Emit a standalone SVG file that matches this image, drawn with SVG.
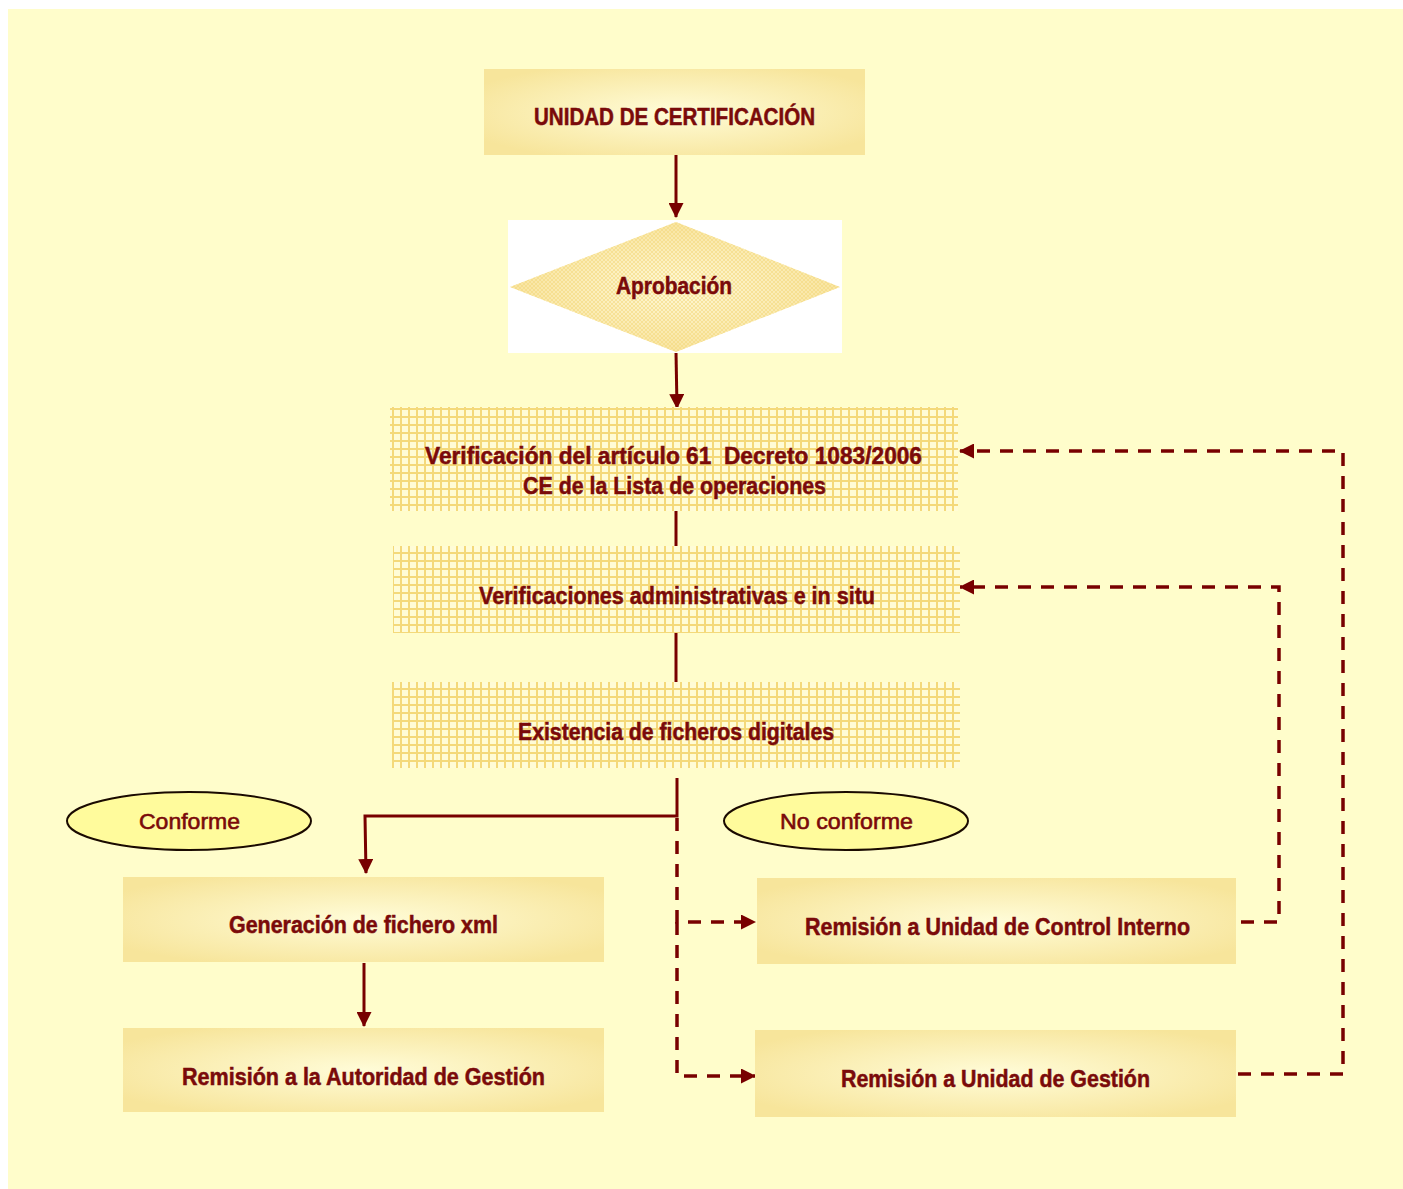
<svg xmlns="http://www.w3.org/2000/svg" width="1403" height="1189" viewBox="0 0 1403 1189">
<style>
.t{font-family:"Liberation Sans",Arial,sans-serif;font-weight:bold;fill:#7A0A0A;text-anchor:middle;font-size:23px;stroke:#7A0A0A;stroke-width:0.5;white-space:pre}
.e{font-family:"Liberation Sans",Arial,sans-serif;font-weight:normal;fill:#7A0A0A;text-anchor:middle;font-size:22px;stroke:#7A0A0A;stroke-width:0.6}
.c{fill:none;stroke:#780000;stroke-width:3}
.d{fill:none;stroke:#780000;stroke-width:3.5;stroke-dasharray:13 10}
.ell{fill:#FFFB9C;stroke:#1a0a00;stroke-width:2}
</style>
<defs>
<radialGradient id="bx" cx="50%" cy="50%" r="60%">
<stop offset="0" stop-color="#FFFCD8"/>
<stop offset="1" stop-color="#F7E59B"/>
</radialGradient>
<pattern id="grid" width="8" height="8" patternUnits="userSpaceOnUse">
<rect width="8" height="8" fill="#FFFCD6"/>
<path d="M0 1H8M1 0V8" stroke="#F4D97A" stroke-width="2"/>
</pattern>
<pattern id="fine" width="4" height="4" patternUnits="userSpaceOnUse">
<path d="M0 0L4 4M4 0L0 4" stroke="#F3D77A" stroke-width="0.8" opacity="0.7"/>
</pattern>
<radialGradient id="dg" cx="50%" cy="50%" r="55%">
<stop offset="0" stop-color="#FFF9D8"/>
<stop offset="1" stop-color="#F8E29A"/>
</radialGradient>
<marker id="ahl" markerWidth="15" markerHeight="15" refX="14" refY="7.5" orient="auto" markerUnits="userSpaceOnUse" viewBox="0 0 15 15">
<path d="M0 0L15 7.5L0 15Z" fill="#780000"/>
</marker>
</defs>
<rect x="0" y="0" width="1403" height="1189" fill="#FFFFFF"/>
<rect x="8" y="9" width="1395" height="1180" fill="#FFFDCB"/>

<g id="connectors">
<path class="c" d="M676 155V217" marker-end="url(#ahl)"/>
<path class="c" d="M676 352L677 408" marker-end="url(#ahl)"/>
<path class="c" d="M676 495V547"/>
<path class="c" d="M676 633V683"/>
<path class="c" d="M677 778V816H365L366 873" marker-end="url(#ahl)"/>
<path class="c" d="M364 963V1026" marker-end="url(#ahl)"/>
<path class="d" d="M677 818V922H755" marker-end="url(#ahl)"/>
<path class="d" d="M677 922V1076H755" marker-end="url(#ahl)"/>
<path class="d" d="M1241 922H1279V587H960" marker-end="url(#ahl)"/>
<path class="d" d="M1238 1074H1343V451H960" marker-end="url(#ahl)"/>
</g>

<g id="n1">
<rect x="484" y="69" width="381" height="86" fill="url(#bx)"/>
<text class="t" x="674.5" y="125" font-size="24" textLength="281" lengthAdjust="spacingAndGlyphs">UNIDAD DE CERTIFICACIÓN</text>
</g>

<g id="n2">
<rect x="508" y="220" width="334" height="133" fill="#FFFFFF"/>
<polygon points="676,222 840,287 676,352 510,287" fill="url(#dg)"/>
<polygon points="676,222 840,287 676,352 510,287" fill="url(#fine)"/>
<text class="t" x="674" y="294" textLength="116" lengthAdjust="spacingAndGlyphs">Aprobación</text>
</g>

<g id="n3">
<rect x="390" y="407" width="568" height="104" fill="url(#grid)"/>
<text class="t" x="673.5" y="464" textLength="497" lengthAdjust="spacingAndGlyphs">Verificación del artículo 61  Decreto 1083/2006</text>
<text class="t" x="674.5" y="494" textLength="303" lengthAdjust="spacingAndGlyphs">CE de la Lista de operaciones</text>
</g>

<g id="n4">
<rect x="393" y="546" width="567" height="87" fill="url(#grid)"/>
<text class="t" x="677" y="604" textLength="396" lengthAdjust="spacingAndGlyphs">Verificaciones administrativas e in situ</text>
</g>

<g id="n5">
<rect x="392" y="682" width="568" height="86" fill="url(#grid)"/>
<text class="t" x="676" y="740" textLength="316" lengthAdjust="spacingAndGlyphs">Existencia de ficheros digitales</text>
</g>

<g id="conforme">
<ellipse class="ell" cx="189" cy="821" rx="122" ry="29"/>
<text class="e" x="189.5" y="829" textLength="101" lengthAdjust="spacingAndGlyphs">Conforme</text>
</g>

<g id="noconforme">
<ellipse class="ell" cx="846" cy="821" rx="122" ry="29"/>
<text class="e" x="846.5" y="829" textLength="133" lengthAdjust="spacingAndGlyphs">No conforme</text>
</g>

<g id="n6">
<rect x="123" y="877" width="481" height="85" fill="url(#bx)"/>
<text class="t" x="363.5" y="933" textLength="269" lengthAdjust="spacingAndGlyphs">Generación de fichero xml</text>
</g>

<g id="n7">
<rect x="123" y="1028" width="481" height="84" fill="url(#bx)"/>
<text class="t" x="363.5" y="1085" textLength="363" lengthAdjust="spacingAndGlyphs">Remisión a la Autoridad de Gestión</text>
</g>

<g id="n8">
<rect x="757" y="878" width="479" height="86" fill="url(#bx)"/>
<text class="t" x="997.5" y="935" textLength="385" lengthAdjust="spacingAndGlyphs">Remisión a Unidad de Control Interno</text>
</g>

<g id="n9">
<rect x="755" y="1030" width="481" height="87" fill="url(#bx)"/>
<text class="t" x="995.5" y="1087" textLength="309" lengthAdjust="spacingAndGlyphs">Remisión a Unidad de Gestión</text>
</g>
</svg>
